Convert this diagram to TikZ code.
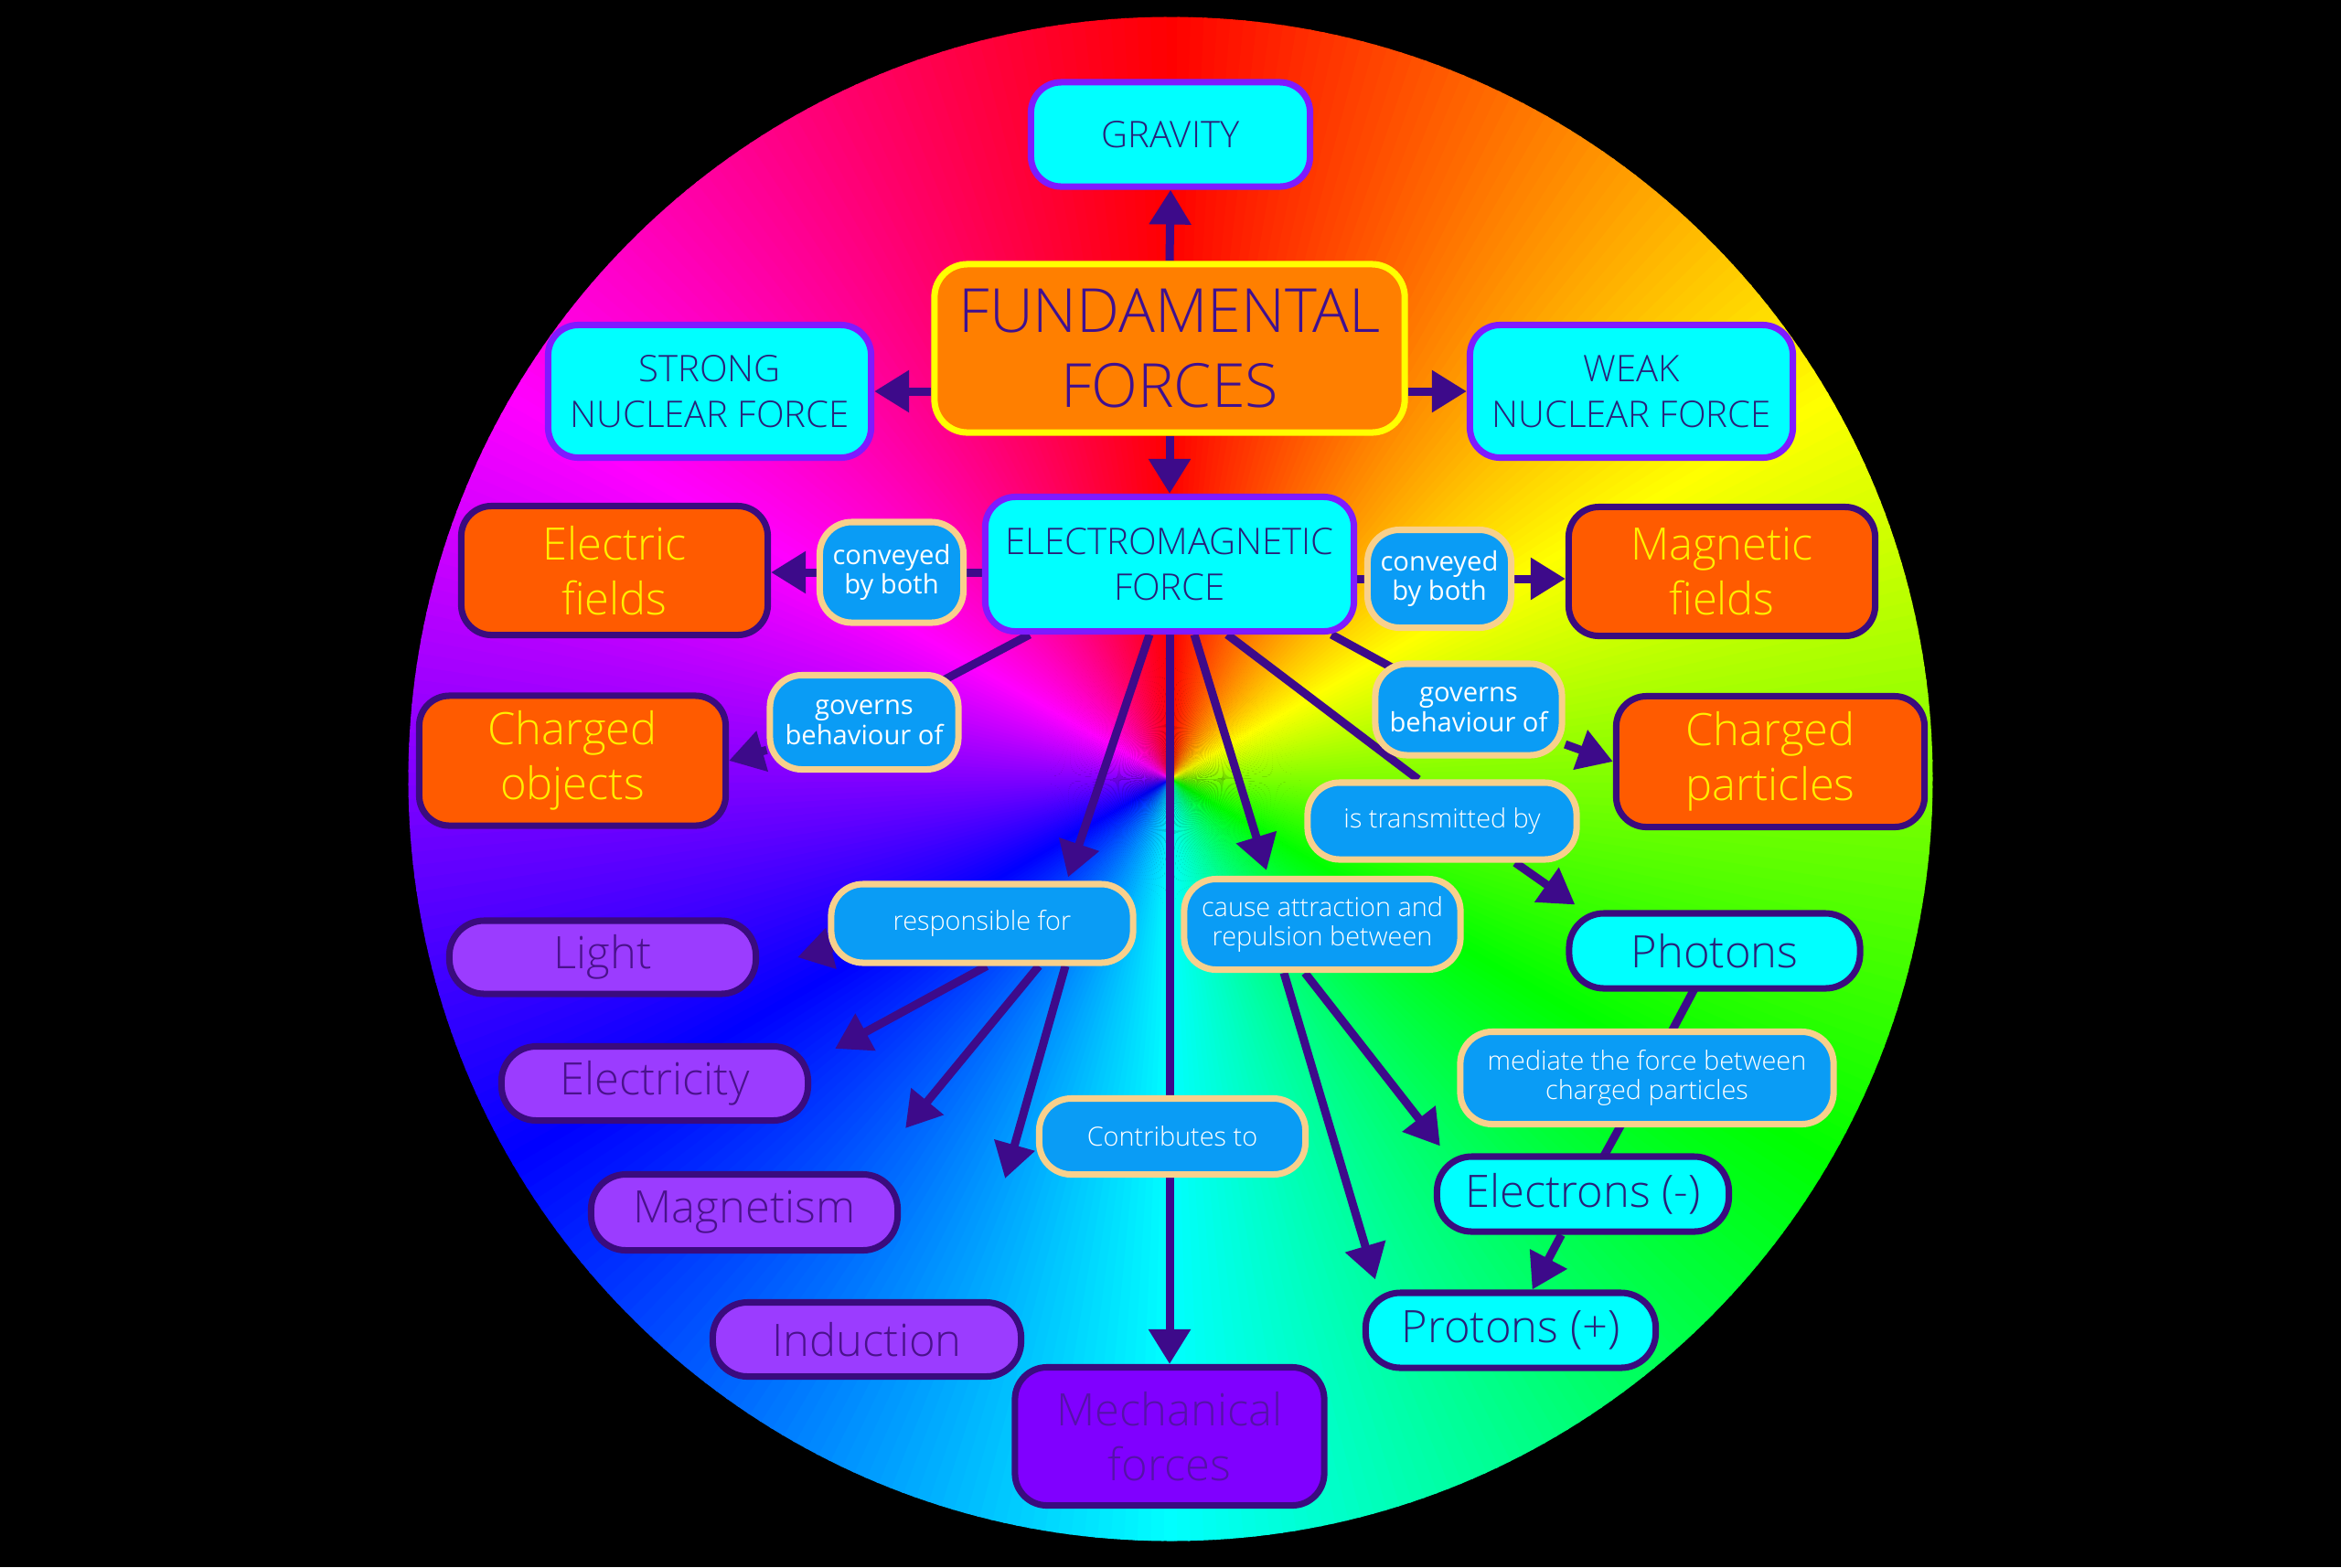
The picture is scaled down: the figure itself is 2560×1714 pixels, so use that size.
\documentclass[tikz,border=0pt]{standalone}
\usepackage{fontspec}
\IfFontExistsTF{Open Sans Light}{\newfontfamily\lightf{Open Sans Light}}{\newfontfamily\lightf{Open Sans}}
\newfontfamily\regf{Open Sans}
\usetikzlibrary{arrows.meta,calc}
\definecolor{arrc}{HTML}{3D0A8A}
\definecolor{cyanF}{HTML}{00FFFF}
\definecolor{violetB}{HTML}{7F1AFF}
\definecolor{darkB}{HTML}{3A0B7E}
\definecolor{navyT}{HTML}{2A1F78}
\definecolor{ffF}{HTML}{FF7F00}
\definecolor{yellowB}{HTML}{FFFF00}
\definecolor{ffT}{HTML}{3F1090}
\definecolor{orF}{HTML}{FF5B00}
\definecolor{yelT}{HTML}{FFF000}
\definecolor{linkF}{HTML}{0A9CF5}
\definecolor{linkB}{HTML}{F8D08C}
\definecolor{purF}{HTML}{9B3CFF}
\definecolor{purT}{HTML}{4A128C}
\definecolor{mechF}{HTML}{8000FF}
\definecolor{mechT}{HTML}{5512A8}
\pgfdeclarelayer{wheel}
\pgfdeclarelayer{links}
\pgfsetlayers{wheel,links,main}
\tikzset{
  basebox/.style={rounded corners=0.33cm, line width=2pt, align=center, inner sep=0pt},
  topbox/.style={basebox, fill=cyanF, draw=violetB, text=navyT, font=\lightf\fontsize{11.4pt}{14.2pt}\selectfont},
  ffbox/.style={basebox, rounded corners=0.36cm, fill=ffF, draw=yellowB, text=ffT, font=\lightf\fontsize{18.9pt}{23.3pt}\selectfont},
  orbox/.style={basebox, fill=orF, draw=darkB, text=yelT, font=\lightf\fontsize{13.9pt}{17pt}\selectfont},
  linkbox/.style={basebox, rounded corners=0.35cm, fill=linkF, draw=linkB, text=white, font=\lightf\fontsize{8.2pt}{9.3pt}\selectfont},
  linkboxr/.style={linkbox, font=\regf\fontsize{8.3pt}{9.2pt}\selectfont},
  pill/.style={basebox, rounded corners=0.38cm, fill=purF, draw=darkB, text=purT, font=\lightf\fontsize{13.9pt}{17pt}\selectfont},
  pillc/.style={pill, fill=cyanF, text=navyT},
  mechbox/.style={basebox, rounded corners=0.35cm, fill=mechF, draw=darkB, text=mechT, font=\lightf\fontsize{13.9pt}{17pt}\selectfont},
  arr/.style={draw=arrc, line width=2.56pt, -{Triangle[length=10.8pt,width=12.5pt]}},
  lnk/.style={draw=arrc, line width=2.56pt},
}
\begin{document}
\begin{tikzpicture}[x=0.01cm,y=-0.01cm]
\useasboundingbox (0,0) rectangle (2560,1714);
% nodes
\node[topbox, minimum width=3.05cm, minimum height=1.14cm] (grav) at (1280,147) {GRAVITY};
\node[ffbox, minimum width=5.14cm, minimum height=1.84cm] (ff) at (1279,381) {FUNDAMENTAL\\FORCES};
\node[topbox, minimum width=3.53cm, minimum height=1.45cm] (strong) at (776,428) {STRONG\\NUCLEAR FORCE};
\node[topbox, minimum width=3.53cm, minimum height=1.45cm] (weak) at (1784,428) {WEAK\\NUCLEAR FORCE};
\node[topbox, minimum width=4.03cm, minimum height=1.47cm] (em) at (1279,617) {ELECTROMAGNETIC\\FORCE};
\node[orbox, minimum width=3.35cm, minimum height=1.41cm] (efield) at (672,624) {Electric\\fields};
\node[linkboxr, minimum width=1.57cm, minimum height=1.10cm] (convL) at (975,626) {conveyed\\by both};
\node[linkboxr, minimum width=1.57cm, minimum height=1.07cm] (convR) at (1574,633) {conveyed\\by both};
\node[orbox, minimum width=3.35cm, minimum height=1.41cm] (mfield) at (1883,625) {Magnetic\\fields};
\node[orbox, minimum width=3.35cm, minimum height=1.42cm] (chObj) at (626,832) {Charged\\objects};
\node[linkboxr, minimum width=2.06cm, minimum height=1.03cm] (govL) at (945,790) {governs\\behaviour of};
\node[linkboxr, minimum width=2.04cm, minimum height=1.00cm] (govR) at (1606,776) {governs\\behaviour of};
\node[orbox, minimum width=3.37cm, minimum height=1.43cm] (chPart) at (1936,833) {Charged\\particles};
\node[linkbox, minimum width=2.94cm, minimum height=0.84cm] (trans) at (1577,898) {is transmitted by};
\node[pillc, draw=darkB, minimum width=3.18cm, minimum height=0.82cm] (photons) at (1875,1040) {Photons};
\node[linkbox, minimum width=3.30cm, minimum height=0.86cm] (resp) at (1074,1010) {responsible for};
\node[linkbox, minimum width=3.02cm, minimum height=0.99cm] (cause) at (1446,1011) {cause attraction and\\repulsion between};
\node[pill, minimum width=3.35cm, minimum height=0.80cm] (light) at (659,1047) {Light};
\node[pill, minimum width=3.35cm, minimum height=0.81cm] (elec) at (716,1185) {Electricity};
\node[pill, minimum width=3.35cm, minimum height=0.83cm] (magn) at (814,1326) {Magnetism};
\node[pill, minimum width=3.37cm, minimum height=0.81cm] (induc) at (948,1465) {Induction};
\node[linkbox, minimum width=2.91cm, minimum height=0.83cm] (contrib) at (1282,1243) {Contributes to};
\node[mechbox, minimum width=3.38cm, minimum height=1.51cm] (mech) at (1279,1571) {Mechanical\\forces};
\node[linkbox, minimum width=4.08cm, minimum height=1.01cm] (mediate) at (1801,1179) {mediate the force between\\charged particles};
\node[pillc, minimum width=3.19cm, minimum height=0.82cm] (electrons) at (1731,1306) {Electrons (-)};
\node[pillc, minimum width=3.17cm, minimum height=0.82cm] (protons) at (1652,1455) {Protons (+)};
% free ends
\coordinate (tLight) at ($(light.east)+(42,0)$);
\coordinate (tElec) at ($(elec.north east)+(26,6)$);
\coordinate (tMagn) at ($(magn.north east)+(5,-47)$);
\coordinate (tInduc) at ($(induc.north east)+(-21,-132)$);
% wheel
\begin{pgfonlayer}{wheel}
\fill[black] (0,0) rectangle (2560,1714);
\begin{scope}
\clip (1280,852) circle (8.33cm);
\foreach \h in {0,...,359}{
  \definecolor{wc}{Hsb}{\h,1,1}
  \fill[wc] (1280,852) -- ({1280+900*sin(\h-0.5)},{852-900*cos(\h-0.5)}) -- ({1280+900*sin(\h+0.7)},{852-900*cos(\h+0.7)}) -- cycle;
}
\end{scope}
\end{pgfonlayer}
% connectors
\begin{pgfonlayer}{links}
\draw[arr] (ff.north) -- (grav.south);
\draw[arr] (strong -| ff.west) -- (strong.east);
\draw[arr] (weak -| ff.east) -- (weak.west);
\draw[arr] (ff.south) -- (em.north);
\draw[lnk] (em.center |- convL) -- (convL.center);
\draw[arr] (convL.west) -- (convL.west -| efield.east);
\draw[lnk] (em.center |- convR) -- (convR.center);
\draw[arr] (convR.east) -- (convR.east -| mfield.west);
\draw[lnk] ($(em.south west)+(52,0)$) -- (govL.center);
\draw[arr] (govL) -- (chObj.east);
\draw[lnk] ($(em.south east)+(-28,0)$) -- (govR.center);
\draw[arr] (govR) -- (chPart.west);
\draw[arr] ($(em.south)+(-22,0)$) -- ($(resp.north)+(94,-4)$);
\draw[lnk] (em.south) -- (em.south |- contrib.center);
\draw[arr] (mech.north |- contrib.south) -- (mech.north);
\draw[arr] ($(em.south)+(27,0)$) -- ($(cause.north)+(-61,-6)$);
\draw[lnk] ($(em.south)+(63,0)$) -- ($(trans.north)+(-26,0)$);
\draw[arr] ($(trans.south)+(80,0)$) -- ($(photons.north west)+(10,-6)$);
\draw[arr] ($(resp.west)+(5,27)$) -- (tLight);
\draw[arr] ($(resp.south)+(5,0)$) -- (tElec);
\draw[arr] ($(resp.south)+(62,0)$) -- (tMagn);
\draw[arr] ($(resp.south)+(91,0)$) -- (tInduc);
\draw[arr] ($(cause.south)+(-19,0)$) -- ($(electrons.north west)+(7,-8)$);
\draw[arr] ($(cause.south)+(-42,0)$) -- ($(protons.north west)+(14,-11)$);
\draw[lnk] (photons.center) -- (mediate.center);
\draw[lnk] (mediate.center) -- (electrons.center);
\draw[arr] (electrons) -- (protons);
\end{pgfonlayer}
\end{tikzpicture}
\end{document}
